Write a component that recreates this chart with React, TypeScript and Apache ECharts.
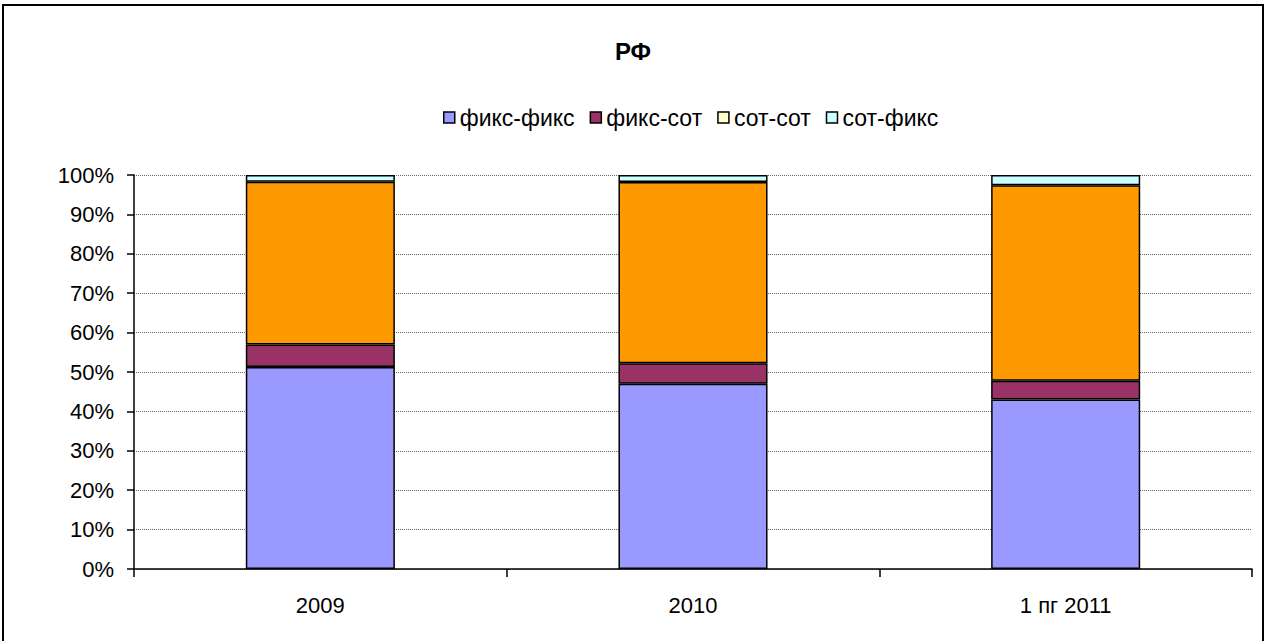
import React, { useEffect, useRef } from "react";
import * as echarts from "echarts";

const categories = ["2009", "2010", "1 пг 2011"];
const fixFix = [51.3, 47.0, 43.0];
const fixSot = [5.7, 5.2, 4.8];
const sotSot = [41.3, 46.0, 49.6];
const sotFix = [1.7, 1.8, 2.6];
const seriesNames = ["фикс-фикс", "фикс-сот", "сот-сот", "сот-фикс"];
const barColors = ["#9999FF", "#993366", "#FF9900", "#CCFFFF"];
const legendColors = ["#9999FF", "#993366", "#FFFFCC", "#CCFFFF"];

export default function App() {
  const ref = useRef<HTMLDivElement>(null);
  useEffect(() => {
    if (!ref.current) return;
    const chart = echarts.init(ref.current, null, { renderer: "svg" });
    const data = [fixFix, fixSot, sotSot, sotFix];
    const font = "Arial, 'Liberation Sans', sans-serif";
    chart.setOption({
      animation: false,
      backgroundColor: "#fff",
      title: {
        text: "РФ",
        left: "center",
        top: 34,
        textStyle: { fontFamily: font, fontSize: 24, fontWeight: "bold", color: "#000" },
      },
      legend: {
        top: 101,
        left: 438,
        padding: 5,
        itemWidth: 11,
        itemHeight: 11,
        itemGap: 15,
        icon: "rect",
        textStyle: { fontFamily: font, fontSize: 23, color: "#000" },
        data: seriesNames.map((n, i) => ({
          name: n,
          itemStyle: { color: legendColors[i], borderColor: "#000", borderWidth: 1.5 },
        })),
      },
      grid: { left: 134, right: 14, top: 175, bottom: 72, containLabel: false },
      xAxis: {
        type: "category",
        data: categories,
        axisLine: { lineStyle: { color: "#000", width: 1.5 } },
        axisTick: { show: true, inside: false, length: 8, lineStyle: { color: "#000", width: 1.5 } },
        axisLabel: { fontFamily: font, fontSize: 22, color: "#000", margin: 25 },
        splitLine: { show: false },
      },
      yAxis: {
        type: "value",
        min: 0,
        max: 100,
        interval: 10,
        axisLine: { show: true, lineStyle: { color: "#000", width: 1.5 } },
        axisTick: { show: true, length: 7, lineStyle: { color: "#000", width: 1.5 } },
        axisLabel: { fontFamily: font, fontSize: 22, color: "#000", margin: 20, formatter: "{value}%" },
        splitLine: { show: true, lineStyle: { color: "#666", type: [1, 1], width: 1 } },
      },
      series: seriesNames.map((n, i) => ({
        name: n,
        type: "bar",
        stack: "total",
        barWidth: "40%",
        data: data[i],
        itemStyle: { color: barColors[i], borderColor: "#000", borderWidth: 1.5 },
      })),
      graphic: [
        {
          type: "rect",
          shape: { x: 3, y: 5, width: 1260, height: 645 },
          style: { fill: "none", stroke: "#000", lineWidth: 2 },
          silent: true,
        },
      ],
    });
    return () => chart.dispose();
  }, []);
  return (
    <div
      ref={ref}
      style={{ position: "fixed", left: 0, top: 0, width: 1266, height: 641 }}
    />
  );
}
